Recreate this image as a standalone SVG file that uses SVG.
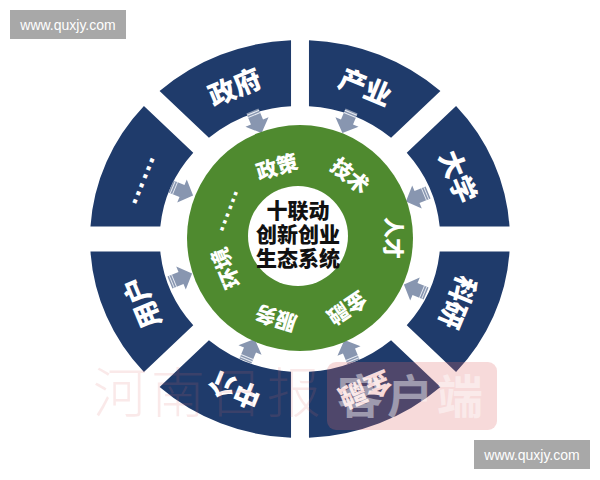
<svg xmlns="http://www.w3.org/2000/svg" width="600" height="480" viewBox="0 0 600 480">
<defs>
<style>
.seg{fill:#1f3b6b}
.segt{fill:#ffffff;font-family:"Liberation Sans","Noto Sans CJK SC",sans-serif;font-weight:900;font-size:27px;text-anchor:middle;dominant-baseline:central}
.gt{fill:#ffffff;font-family:"Liberation Sans","Noto Sans CJK SC",sans-serif;font-weight:900;font-size:21px;text-anchor:middle;dominant-baseline:central}
.ct{fill:#111111;font-family:"Liberation Sans","Noto Sans CJK SC",sans-serif;font-weight:900;font-size:21px;text-anchor:middle;dominant-baseline:central}
.wm{fill:#ffffff;font-family:"Liberation Sans",sans-serif;font-size:14px;text-anchor:middle;dominant-baseline:central}
.arr{fill:#8896b0}
</style>
<g id="arrowShape">
<path d="M-12,-6.5 L0,-6.5 L0,-12.5 L12,0 L0,12.5 L0,6.5 L-12,6.5 Z"/>
<path d="M-10,-6.5 V6.5 M-7.5,-6.5 V6.5" stroke="#e8ecf3" stroke-width="1" fill="none"/>
</g>
</defs>
<rect width="600" height="480" fill="#ffffff"/>

<g id="ring" transform="translate(300,239) scale(1.055,1)">
<path id="seg-keyan" class="seg" d="M198.61,12.5 A199,199 0 0 1 147.94,133.09 L101.18,86.33 A133,133 0 0 0 132.41,12.5 Z"/>
<path id="seg-jinrong" class="seg" d="M133.09,147.94 A199,199 0 0 1 8.5,198.82 L8.5,132.73 A133,133 0 0 0 86.33,101.18 Z"/>
<path id="seg-zhongjie" class="seg" d="M-8.5,198.82 A199,199 0 0 1 -133.09,147.94 L-86.33,101.18 A133,133 0 0 0 -8.5,132.73 Z"/>
<path id="seg-yonghu" class="seg" d="M-147.94,133.09 A199,199 0 0 1 -198.61,12.5 L-132.41,12.5 A133,133 0 0 0 -101.18,86.33 Z"/>
<path id="seg-more" class="seg" d="M-198.61,-12.5 A199,199 0 0 1 -147.94,-133.09 L-101.18,-86.33 A133,133 0 0 0 -132.41,-12.5 Z"/>
<path id="seg-zhengfu" class="seg" d="M-133.09,-147.94 A199,199 0 0 1 -8.5,-198.82 L-8.5,-132.73 A133,133 0 0 0 -86.33,-101.18 Z"/>
<path id="seg-chanye" class="seg" d="M8.5,-198.82 A199,199 0 0 1 133.09,-147.94 L86.33,-101.18 A133,133 0 0 0 8.5,-132.73 Z"/>
<path id="seg-daxue" class="seg" d="M147.94,-133.09 A199,199 0 0 1 198.61,-12.5 L132.41,-12.5 A133,133 0 0 0 101.18,-86.33 Z"/>
</g>

<g id="connectors" class="arr">
<use href="#arrowShape" transform="translate(257,122) rotate(67.5)"/>
<use href="#arrowShape" transform="translate(347,122) rotate(112.5)"/>
<use href="#arrowShape" transform="translate(417,197) rotate(157.5)"/>
<use href="#arrowShape" transform="translate(415,289) rotate(202.5)"/>
<use href="#arrowShape" transform="translate(349,351) rotate(247.5)"/>
<use href="#arrowShape" transform="translate(250,350) rotate(292.5)"/>
<use href="#arrowShape" transform="translate(181,278) rotate(337.5)"/>
<use href="#arrowShape" transform="translate(182,191) rotate(22.5)"/>
</g>

<g id="hub">
<circle cx="300" cy="238" r="113" fill="#4f8a2f"/>
<circle cx="298" cy="236" r="50" fill="#ffffff"/>
<text class="ct" x="298" y="210">十联动</text>
<text class="ct" x="298" y="234">创新创业</text>
<text class="ct" x="298" y="258">生态系统</text>
</g>

<g id="factors">
<text class="gt" x="277" y="167" transform="rotate(-17,277,167)">政策</text>
<text class="gt" x="350" y="176" transform="rotate(39,350,176)">技术</text>
<text class="gt" x="393" y="238" transform="rotate(90,393,238)">人才</text>
<text class="gt" x="347" y="308" transform="rotate(146,347,308)">金融</text>
<text class="gt" x="276" y="318" transform="rotate(197,276,318)">服务</text>
<text class="gt" x="226" y="268" transform="rotate(248,226,268)">环境</text>
<text class="gt" x="223" y="209" transform="rotate(-69,223,209)" style="font-size:23px">……</text>
</g>

<g id="node-zhengfu"><text class="segt" x="235" y="88" transform="rotate(-22.5,235,88)">政府</text></g>
<g id="node-chanye"><text class="segt" x="365" y="88" transform="rotate(22.5,365,88)">产业</text></g>
<g id="node-daxue"><text class="segt" x="457" y="177" transform="rotate(67.5,457,177)">大学</text></g>
<g id="node-keyan"><text class="segt" x="457" y="302" transform="rotate(112.5,457,302)">科研</text></g>
<g id="node-jinrong"><text class="segt" x="365" y="389" transform="rotate(157.5,365,389)">金融</text></g>
<g id="node-zhongjie"><text class="segt" x="235" y="389" transform="rotate(202.5,235,389)">中介</text></g>
<g id="node-yonghu"><text class="segt" x="143" y="302" transform="rotate(247.5,143,302)">用户</text></g>
<g id="node-more"><text class="segt" x="137" y="178" transform="rotate(-67.5,137,178)" style="font-size:27px">……</text></g>

<g id="watermark-hn">
<g fill="#e06a6a" opacity="0.14" font-family="'Liberation Serif','Noto Sans CJK SC',serif" font-weight="300" font-size="54" text-anchor="middle" dominant-baseline="central">
<text x="120" y="395">河</text>
<text x="178" y="395">南</text>
<text x="236" y="395">日</text>
<text x="294" y="395">报</text>
</g>
<rect x="327" y="362" width="170" height="68" rx="9" fill="#e06a6a" opacity="0.25"/>
<text x="412" y="397" fill="#ffffff" opacity="0.45" font-family="'Liberation Sans','Noto Sans CJK SC',sans-serif" font-weight="700" font-size="46" text-anchor="middle" dominant-baseline="central" letter-spacing="4">客户端</text>
</g>

<g id="watermark-site">
<rect x="10" y="10" width="116" height="29" fill="#a8a8a8"/>
<text class="wm" x="68" y="25">www.quxjy.com</text>
<rect x="474" y="440" width="116" height="29" fill="#a8a8a8"/>
<text class="wm" x="532" y="455">www.quxjy.com</text>
</g>
</svg>
